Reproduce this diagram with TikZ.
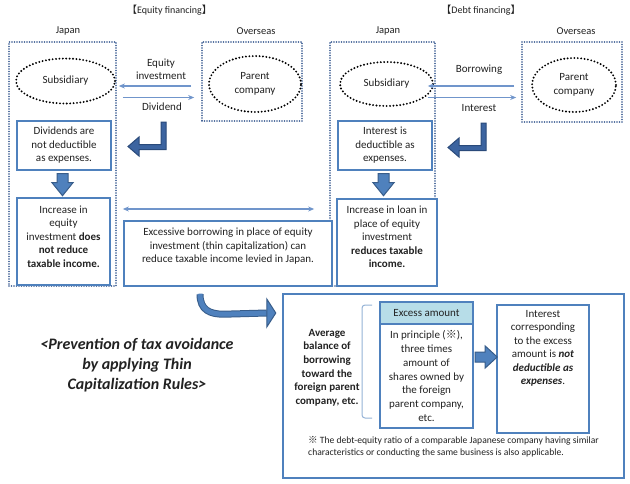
\documentclass[tikz,border=0pt]{standalone}
\usepackage{fontspec}
\setmainfont{Carlito}
\newfontfamily\cjk{Noto Sans CJK JP}
\usetikzlibrary{arrows.meta,calc,shapes.geometric}
\definecolor{boxblue}{HTML}{4F81BD}
\definecolor{dotblue}{HTML}{34578F}
\definecolor{arrowfill}{HTML}{4F81BD}
\definecolor{arrowline}{HTML}{385D8A}
\definecolor{bentfill}{HTML}{3C64A0}
\definecolor{bentline}{HTML}{2A4A7A}
\definecolor{thinblue}{HTML}{7095CB}
\definecolor{headfill}{HTML}{B7DDE8}
\definecolor{bracecol}{HTML}{95B3D7}
\definecolor{txt}{HTML}{222222}
\tikzset{
  every node/.style={text=txt, inner sep=0pt},
  bodyfont/.style={font=\fontsize{11}{13.5}\selectfont},
  dotbox/.style={draw=dotblue, line width=1.7pt, dash pattern=on 0pt off 2.5pt, line cap=round},
  dotellipse/.style={ellipse, draw=black, line width=2.1pt, dash pattern=on 0pt off 3.4pt, line cap=round, bodyfont},
  solidbox/.style={draw=boxblue, line width=2.4pt, fill=white, align=center, bodyfont},
  lbl/.style={align=center, bodyfont},
  hdr/.style={font=\fontsize{10.5}{12}\selectfont},
  thinarrow/.style={draw=thinblue, line width=1.1pt, -{Stealth[length=6pt,width=5pt]}},
  thindouble/.style={draw=thinblue, line width=1.1pt, {Stealth[length=6pt,width=5pt]}-{Stealth[length=6pt,width=5pt]}},
  blockarrow/.style={fill=arrowfill, draw=arrowline, line width=1pt, line join=miter},
  bentarrow/.style={fill=bentfill, draw=bentline, line width=1pt, line join=miter}
}
\begin{document}
\begin{tikzpicture}[x=1pt,y=-1pt]
\useasboundingbox[fill=white] (0,0) rectangle (630,483);

% titles
\node[font=\fontsize{10}{12}\selectfont] (tEq) at (169.5,10) {{\cjk 【}Equity financing{\cjk 】}};
\node[font=\fontsize{10}{12}\selectfont] (tDe) at (481,10) {{\cjk 【}Debt financing{\cjk 】}};
\node[hdr] (hJL) at (68,31) {Japan};
\node[hdr] (hOL) at (256,31) {Overseas};
\node[hdr] (hJR) at (388,31) {Japan};
\node[hdr] (hOR) at (576,31) {Overseas};

% dotted region boxes
\node[dotbox, minimum width=107pt, minimum height=244pt] (jpL) at (62.5,164) {};
\node[dotbox, minimum width=100pt, minimum height=79pt] (ovL) at (252,81.5) {};
\node[dotbox, minimum width=105pt, minimum height=244pt] (jpR) at (382.5,164) {};
\node[dotbox, minimum width=100pt, minimum height=80pt] (ovR) at (572,82) {};

% ellipses
\node[dotellipse, minimum width=99pt, minimum height=45pt] (subL) at (65.5,81) {Subsidiary};
\node[dotellipse, minimum width=92pt, minimum height=56pt, align=center] (parL) at (255,84) {Parent\\company};
\node[dotellipse, minimum width=93pt, minimum height=44pt] (subR) at (386.5,84) {Subsidiary};
\node[dotellipse, minimum width=84pt, minimum height=54pt, align=center] (parR) at (574,85) {Parent\\company};

% thin arrows and labels
\coordinate (yA) at (0,86);
\coordinate (yB) at (0,97.5);
\draw[thinarrow, shorten <=10pt, shorten >=2pt] (ovL.west |- yA) -- (jpL.east |- yA);
\draw[thinarrow, shorten <=6pt, shorten >=7pt] (jpL.east |- yB) -- (ovL.west |- yB);
\node[lbl] (lEq) at (161,69.5) {Equity\\investment};
\node[lbl] (lDiv) at (162,107) {Dividend};
\draw[thinarrow, shorten <=7pt, shorten >=-8pt] (ovR.west |- yA) -- (jpR.east |- yA);
\draw[thinarrow, shorten <=-8pt, shorten >=5pt] (jpR.east |- yB) -- (ovR.west |- yB);
\node[lbl] (lBor) at (479,70) {Borrowing};
\node[lbl] (lInt) at (479,108) {Interest};

% left solid boxes
\node[solidbox, minimum width=94pt, minimum height=49pt] (divL) at (64,145.5) {Dividends are\\not deductible\\as expenses.};
\node[solidbox, minimum width=93pt, minimum height=87pt] (incL) at (63.5,241.5) {};
\node[lbl] (incLt) at (63.5,236.5) {Increase in\\equity\\investment \textbf{does}\\\textbf{not reduce}\\\textbf{taxable income.}};

% right solid boxes
\node[solidbox, minimum width=94pt, minimum height=49pt] (intR) at (385,145.5) {Interest is\\deductible as\\expenses.};
\node[solidbox, minimum width=100pt, minimum height=87pt] (loanR) at (387,242.5) {};
\node[lbl] (loanRt) at (387,237) {Increase in loan in\\place of equity\\investment\\\textbf{reduces taxable}\\\textbf{income.}};

% excessive borrowing box
\node[solidbox, minimum width=208pt, minimum height=65pt] (exc) at (228,253.5) {};
\node[lbl] (exct) at (228,246.5) {Excessive borrowing in place of equity\\investment (thin capitalization) can\\reduce taxable income levied in Japan.};
\coordinate (yC) at (0,209);
\draw[thindouble, shorten <=6pt, shorten >=15pt] (jpL.east |- yC) -- (jpR.west |- yC);

% block down arrows
\coordinate (dA) at ($(divL.south)+(-1.5,2.5)$);
\draw[blockarrow] ($(dA)+(-5.5,0)$) -- ++(11,0) -- ++(0,9) -- ++(5,0) -- ++(-10.5,13) -- ++(-10.5,-13) -- ++(5,0) -- cycle;
\coordinate (dB) at ($(intR.south)+(-1.5,2.5)$);
\draw[blockarrow] ($(dB)+(-5.5,0)$) -- ++(11,0) -- ++(0,9) -- ++(5,0) -- ++(-10.5,13) -- ++(-10.5,-13) -- ++(5,0) -- cycle;

% bent arrows
\coordinate (bA) at (161,122);
\draw[bentarrow] (bA) -- ++(5,0) -- ++(0,27.5) -- ++(-27,0) -- ++(0,6.5) -- ++(-11,-9.5) -- ++(11,-9.5) -- ++(0,7.5) -- ++(22,0) -- cycle;
\coordinate (bB) at (481,123);
\draw[bentarrow] (bB) -- ++(5,0) -- ++(0,27.5) -- ++(-27,0) -- ++(0,6.5) -- ++(-11,-9.5) -- ++(11,-9.5) -- ++(0,7.5) -- ++(22,0) -- cycle;

% bottom big box
\node[solidbox, minimum width=341pt, minimum height=184pt] (big) at (453.5,386) {};

% curved arrow from excessive box to big box
\coordinate (cS) at ($(exc.south)+(-28,7)$);
\coordinate (cE) at ($(big.west)+(-15,-73)$);
\draw[arrowline, line width=7pt] (cS) .. controls ++(0,16) and ++(-14,0) .. ($(cS)+(24,20)$) -- (cE);
\draw[arrowfill, line width=5pt] ($(cS)+(0,-0.5)$) .. controls ++(0,16.5) and ++(-14,0) .. ($(cS)+(24,20)$) -- ($(cE)+(0.5,0)$);
\draw[blockarrow] ($(cE)+(0,-14)$) -- ($(cE)+(9,0)$) -- ($(cE)+(0,14)$) -- cycle;

\node[lbl, font=\fontsize{11}{13.6}\selectfont\bfseries] (avg) at (327,367.5) {Average\\balance of\\borrowing\\toward the\\foreign parent\\company, etc.};
\draw[bracecol, line width=1pt, rounded corners=3pt] (372,305) -- (362,305) -- (362,418) -- (372,418);

\node[solidbox, fill=headfill, minimum width=93pt, minimum height=22pt] (exH) at (426.5,313) {Excess amount};
\node[solidbox, minimum width=93pt, minimum height=104pt, font=\fontsize{11}{13.7}\selectfont] (exB) at (426.5,376) {In principle ({\cjk ※}),\\three times\\amount of\\shares owned by\\the foreign\\parent company,\\etc.};

\node[solidbox, minimum width=92pt, minimum height=128pt] (intB) at (543,369) {};
\node[lbl] (intBt) at (543,348.5) {Interest\\corresponding\\to the excess\\amount is \textbf{\textit{not}}\\\textbf{\textit{deductible as}}\\\textbf{\textit{expenses}}.};

\coordinate (rA) at ($(exB.east)+(1,-19)$);
\draw[blockarrow] ($(rA)+(0,-5)$) -- ++(10,0) -- ++(0,-6) -- ++(12,11) -- ++(-12,11) -- ++(0,-6) -- ++(-10,0) -- cycle;

\node[anchor=west, align=left, font=\fontsize{9.6}{12.3}\selectfont] (foot) at (308,447) {{\cjk ※} The debt-equity ratio of a comparable Japanese company having similar\\characteristics or conducting the same business is also applicable.};

\node[align=center, font=\fontsize{16}{20}\selectfont\bfseries\itshape] (prev) at (137,365) {<Prevention of tax avoidance\\by applying Thin\\Capitalization Rules>};
\end{tikzpicture}
\end{document}
